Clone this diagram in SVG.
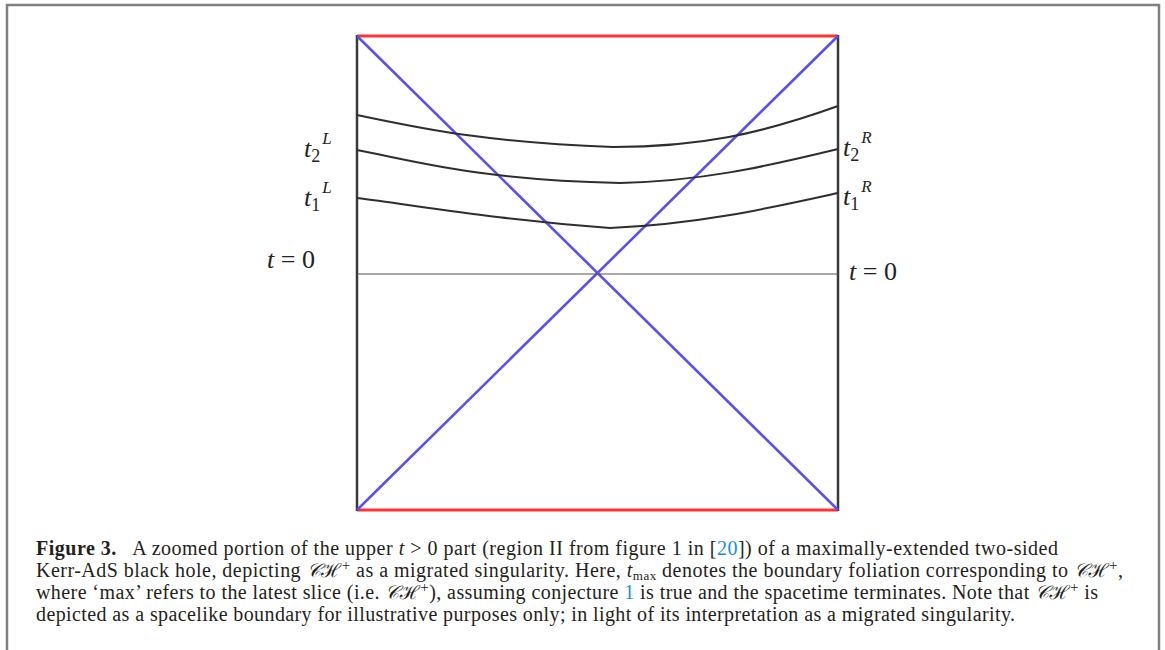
<svg xmlns="http://www.w3.org/2000/svg" width="1165" height="650" viewBox="0 0 1165 650">
<style>
.frame{fill:none;stroke:#808080;stroke-width:2.5}
.edge{stroke:#3a3a3a;stroke-width:2.5;fill:none}
.sing{stroke:#ff3333;stroke-width:3;fill:none}
.hor{stroke:#5b4ff2;stroke-width:2.6;fill:none}
.slice{stroke:#2e2e2e;stroke-width:2;fill:none}
.t0{stroke:#555;stroke-width:1.2;fill:none}
.lab{font-family:"Liberation Serif",serif;font-style:italic;font-size:26px;fill:#222}
.sub{font-family:"Liberation Serif",serif;font-style:normal;font-size:18px;fill:#222}
.sup{font-family:"Liberation Serif",serif;font-style:italic;font-size:17px;fill:#222}
.num{font-family:"Liberation Serif",serif;font-style:normal;font-size:26px;fill:#222}
.cap{font-family:"Liberation Serif",serif;font-size:20px;fill:#231f20}
.b{font-weight:bold}
.i{font-style:italic}
.lnk{fill:#1a8fd6}
.sc{font-family:"DejaVu Serif","Noto Sans",serif;font-style:italic;font-size:19px}
</style>
<path class="frame" d="M7,655 V5 H1159 V655"/>
<g id="spacetime">
<line class="sing" x1="357" y1="36" x2="838" y2="36"/>
<line class="sing" x1="357" y1="510" x2="838" y2="510"/>
<line class="edge" x1="357" y1="35" x2="357" y2="511"/>
<line class="edge" x1="838" y1="35" x2="838" y2="511"/>
</g>
<g id="connectors">
<line class="hor" x1="357" y1="36" x2="838" y2="510"/>
<line class="hor" x1="838" y1="36" x2="357" y2="510"/>
<line class="t0" x1="357" y1="274" x2="838" y2="274"/>
<path class="slice" d="M357,115 C420,128 480,142 613,147 C700,147 760,134 838,106"/>
<path class="slice" d="M357,150 C420,162 480,180 620,183 C700,181 760,168 838,149"/>
<path class="slice" d="M357,198 C420,206 500,220 610,228 C700,224 770,208 838,193"/>
</g>
<g id="labels-left">
<text x="304" y="157" class="lab">t<tspan class="sub" dy="5">2</tspan><tspan class="sup" dx="2" dy="-18">L</tspan></text>
<text x="304" y="206" class="lab">t<tspan class="sub" dy="5">1</tspan><tspan class="sup" dx="2" dy="-18">L</tspan></text>
<text x="267" y="268" class="lab">t <tspan class="num">= 0</tspan></text>
</g>
<g id="labels-right">
<text x="843" y="156" class="lab">t<tspan class="sub" dy="5">2</tspan><tspan class="sup" dx="2" dy="-18">R</tspan></text>
<text x="843" y="205" class="lab">t<tspan class="sub" dy="5">1</tspan><tspan class="sup" dx="2" dy="-18">R</tspan></text>
<text x="849" y="280" class="lab">t <tspan class="num">= 0</tspan></text>
</g>
<g id="caption">
<text class="cap" x="36" y="555" textLength="1022" lengthAdjust="spacing"><tspan class="b">Figure 3.</tspan>&#160;&#160; A zoomed portion of the upper <tspan class="i">t</tspan> &gt; 0 part (region II from figure 1 in [<tspan class="lnk">20</tspan>]) of a maximally-extended two-sided</text>
<text class="cap" x="36" y="577" textLength="1087" lengthAdjust="spacing">Kerr-AdS black hole, depicting <tspan class="sc">𝒞ℋ</tspan><tspan dy="-7" font-size="15">+</tspan><tspan dy="7"> as a migrated singularity. Here, </tspan><tspan class="i">t</tspan><tspan font-size="13" dy="3">max</tspan><tspan dy="-3"> denotes the boundary foliation corresponding to </tspan><tspan class="sc">𝒞ℋ</tspan><tspan dy="-7" font-size="15">+</tspan><tspan dy="7">,</tspan></text>
<text class="cap" x="36" y="599" textLength="1062" lengthAdjust="spacing">where ‘max’ refers to the latest slice (i.e. <tspan class="sc">𝒞ℋ</tspan><tspan dy="-7" font-size="15">+</tspan><tspan dy="7">), assuming conjecture </tspan><tspan class="lnk">1</tspan> is true and the spacetime terminates. Note that <tspan class="sc">𝒞ℋ</tspan><tspan dy="-7" font-size="15">+</tspan><tspan dy="7"> is</tspan></text>
<text class="cap" x="36" y="621" textLength="979" lengthAdjust="spacing">depicted as a spacelike boundary for illustrative purposes only; in light of its interpretation as a migrated singularity.</text>
</g>
</svg>
